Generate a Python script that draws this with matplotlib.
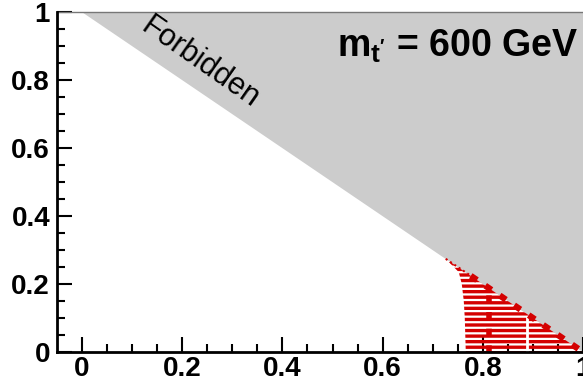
import numpy as np
import matplotlib
matplotlib.use("Agg")
import matplotlib.pyplot as plt

# kinematic limit x + y = 1 (forbidden above)
kin_x = [0.0, 1.0]
kin_y = [1.0, 0.0]

# left edge of the excluded (hatched) region
excl_x = [0.766, 0.765, 0.764, 0.762, 0.758, 0.752, 0.726]
excl_y = [0.0, 0.05, 0.10, 0.15, 0.20, 0.235, 0.274]

# expected limit (dashed) and white observed line
exp_x = 0.812
obs_x = 0.888
obs_top = 0.10

mass_label = "600"

plt.rcParams["font.family"] = ["Liberation Sans", "DejaVu Sans"]
plt.rcParams["mathtext.fontset"] = "custom"
plt.rcParams["mathtext.rm"] = "Liberation Sans:bold"
plt.rcParams["mathtext.it"] = "Liberation Sans:bold"
plt.rcParams["mathtext.bf"] = "Liberation Sans:bold"
plt.rcParams["hatch.linewidth"] = 2.4

fig = plt.figure(figsize=(5.83, 3.82), dpi=100)
ax = fig.add_axes([57 / 583, 30 / 382, 1 - 57 / 583, 340 / 382])

# forbidden region
ax.fill_between(kin_x, kin_y, 1.0, color="#cccccc", lw=0, zorder=1)

# excluded region, horizontal hatch
poly_x = excl_x + [1.0]
poly_y = excl_y + [0.0]
ax.fill(poly_x, poly_y, facecolor="none", edgecolor="#d40000",
        hatch="---", lw=0, zorder=2)

# white observed line
ax.plot([obs_x, obs_x], [0.0, obs_top], color="white", lw=2, zorder=3)

# dashed expected limit
ax.plot([exp_x, exp_x], [0.0, 1 - exp_x], color="#d40000", lw=4,
        ls=(0, (1.2, 1.8)), zorder=4)
ax.plot([0.776, 1.0], [0.224, 0.0], color="#d40000", lw=4.5,
        ls=(0, (1.2, 1.6)), zorder=4)
ax.plot([excl_x[-1], 0.776], [excl_y[-1], 0.224], color="#d40000", lw=1.5,
        ls=(0, (1, 1.5)), zorder=4)

ax.set_xlim(-0.05, 1.0)
ax.set_ylim(0, 1)

ax.set_xticks([0, 0.2, 0.4, 0.6, 0.8, 1.0])
ax.set_xticklabels(["0", "0.2", "0.4", "0.6", "0.8", "1"])
ax.set_yticks([0, 0.2, 0.4, 0.6, 0.8, 1.0])
ax.set_yticklabels(["0", "0.2", "0.4", "0.6", "0.8", "1"])
ax.set_xticks(np.arange(0, 1.001, 0.05), minor=True)
ax.set_yticks(np.arange(0, 1.001, 0.05), minor=True)

ax.tick_params(which="both", direction="in", width=1.5, color="black")
ax.tick_params(which="major", length=11, labelsize=20, pad=5)
ax.tick_params(which="minor", length=6)
ax.tick_params(axis="x", pad=3)
for lab in ax.get_xticklabels() + ax.get_yticklabels():
    lab.set_fontweight("bold")

for s in ["left", "bottom"]:
    ax.spines[s].set_linewidth(2)
    ax.spines[s].set_zorder(6)
ax.spines["right"].set_visible(False)
ax.spines["top"].set_color("#777777")
ax.spines["top"].set_linewidth(1)

ax.text(0.236, 0.85, "Forbidden", rotation=-35, fontsize=22,
        ha="center", va="center", zorder=5)
ax.text(0.99, 0.90, r"$\mathregular{m_{t'}}$ = " + mass_label + " GeV",
        fontsize=27, fontweight="bold", ha="right", va="center", zorder=5)

fig.savefig("out.png", dpi=100)
